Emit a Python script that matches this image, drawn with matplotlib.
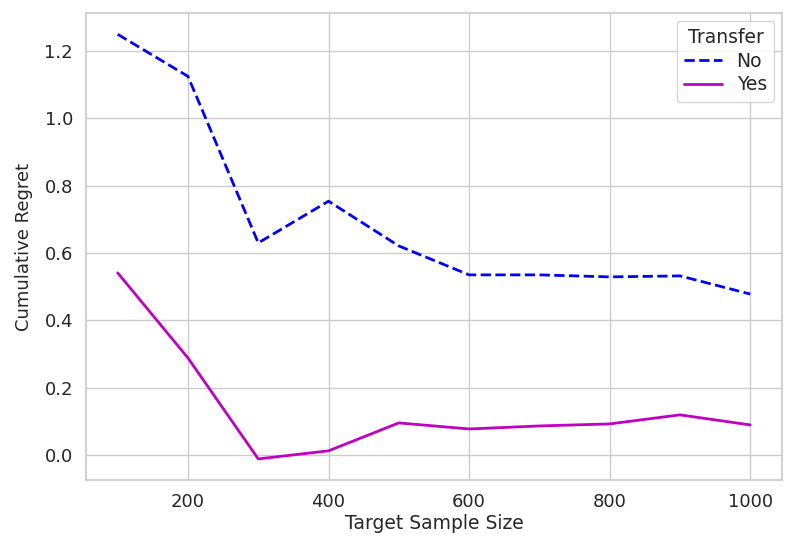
import matplotlib
matplotlib.use("Agg")
import matplotlib.pyplot as plt
import seaborn as sns

sample_sizes = [100, 200, 300, 400, 500, 600, 700, 800, 900, 1000]
regret_no = [1.25, 1.125, 0.63, 0.754, 0.621, 0.535, 0.535, 0.529, 0.532, 0.478]
regret_yes = [0.541, 0.288, -0.012, 0.012, 0.095, 0.077, 0.086, 0.092, 0.119, 0.089]

sns.set_theme(style="whitegrid")
plt.rcParams['font.family'] = ['DejaVu Sans']

fig, ax = plt.subplots(figsize=(7.97, 5.45), dpi=100)
ax.plot(sample_sizes, regret_no, color="blue", linestyle="--", linewidth=2, label="No")
ax.plot(sample_sizes, regret_yes, color="#c000c0", linestyle="-", linewidth=2, label="Yes")
ax.set_xlabel("Target Sample Size", fontsize=13.5, labelpad=2)
ax.set_ylabel("Cumulative Regret", fontsize=13, labelpad=8)
ax.tick_params(labelsize=13)
ax.legend(title="Transfer", fontsize=13.5, title_fontsize=13.5, loc="upper right",
          labelspacing=0.25, borderaxespad=0.4)
fig.subplots_adjust(left=0.108, right=0.981, top=0.976, bottom=0.119)
fig.savefig("out.png", dpi=100)
